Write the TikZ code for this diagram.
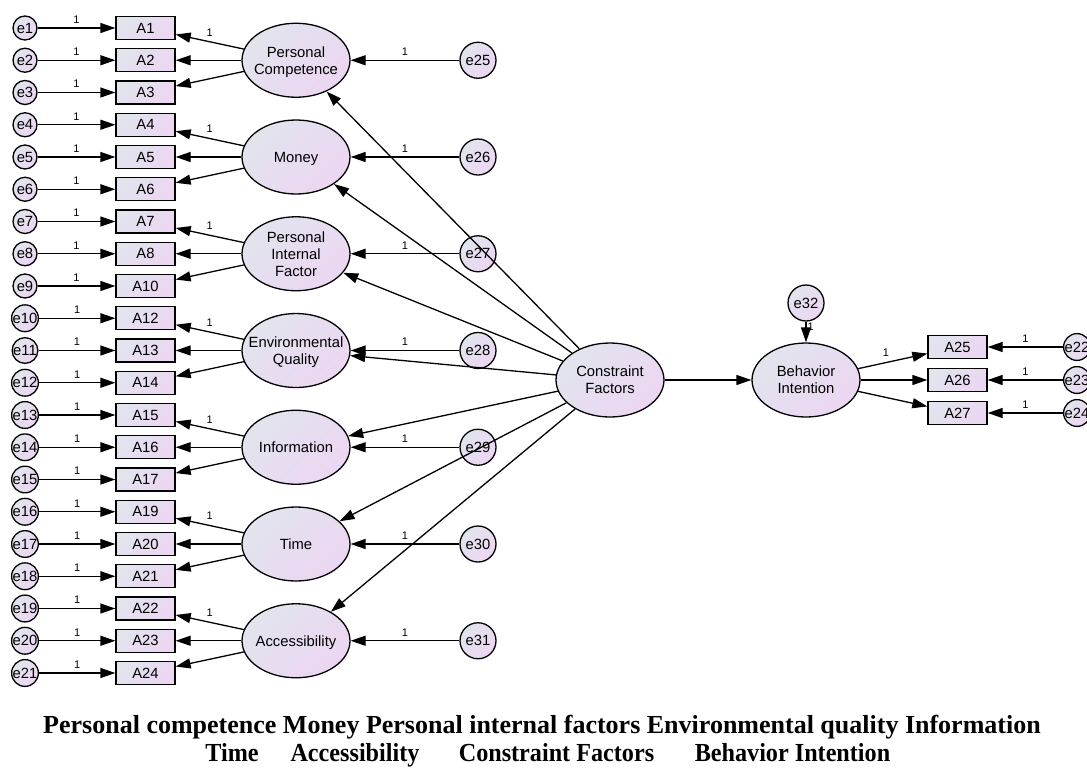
\documentclass[tikz,border=0pt]{standalone}
\usepackage{fontspec}
\setmainfont{Liberation Sans}
\newfontfamily\capfont{Liberation Serif}
\usetikzlibrary{arrows.meta,shapes.geometric}
\definecolor{cA}{RGB}{226,228,238}
\definecolor{cB}{RGB}{236,214,242}
\newcommand\ltxt[1]{\raisebox{-2pt}[\height][\depth]{\makebox[0pt][c]{\begin{tabular}{@{}c@{}}#1\end{tabular}}}}
\newcommand\cword[1]{\scalebox{0.93}[1]{#1}}
\begin{document}
\begin{tikzpicture}[x=1pt,y=-1pt,
 every node/.style={font=\fontsize{14.8}{17}\selectfont},
 grad/.style={draw=black, line width=1.3pt, left color=cA, right color=cB, shading angle=45},
 obs/.style={grad, rectangle, minimum width=59pt, minimum height=23pt, inner sep=0pt},
 lat/.style={grad, ellipse, minimum width=108pt, minimum height=74pt, inner sep=0pt},
 err/.style={grad, circle, minimum size=24pt, inner sep=0pt},
 errb/.style={grad, circle, minimum size=36pt, inner sep=0pt},
 arr/.style={-{Triangle[length=15pt,width=10pt]}, line width=1.3pt},
 one/.style={font=\fontsize{11}{11}\selectfont, inner sep=0pt},
 capt/.style={font=\capfont\bfseries\fontsize{26}{28}\selectfont, inner sep=0pt, anchor=base},
]
\useasboundingbox (0,0) rectangle (1087,769);
% left indicators
\foreach \i/\lab [count=\n from 0] in {1/A1,2/A2,3/A3,4/A4,5/A5,6/A6,7/A7,8/A8,9/A10,10/A12,11/A13,12/A14,13/A15,14/A16,15/A17,16/A19,17/A20,18/A21,19/A22,20/A23,21/A24}{
  \node[err] (e\i) at (25, 28+32.25*\n) {e\i};
  \node[obs] (o\i) at (145.5, 28+32.25*\n) {\lab};
}
% latent factors
\foreach \g/\txt in {1/{Personal\\Competence},2/{Money},3/{Personal\\Internal\\Factor},4/{Environmental\\Quality},5/{Information},6/{Time},7/{Accessibility}}{
  \pgfmathsetmacro\yy{28+32.25*(3*\g-2)}
  \pgfmathtruncatemacro\ee{24+\g}
  \node[lat] (L\g) at (296,\yy) {\ltxt{\txt}};
  \node[errb] (d\g) at (478,\yy) {e\ee};
}
\node[lat] (CF) at (610,380) {\ltxt{Constraint\\Factors}};
\node[lat] (BI) at (806,380) {\ltxt{Behavior\\Intention}};
\node[errb] (e32) at (806,303) {e32};
\node[obs] (A25) at (957.5,347) {A25};
\node[obs] (A26) at (957.5,380) {A26};
\node[obs] (A27) at (957.5,413) {A27};
\node[err] (e22) at (1077,347) {e22};
\node[err] (e23) at (1077,380) {e23};
\node[err] (e24) at (1077,413) {e24};
% connectors
\foreach \i in {1,...,21}{
  \draw[arr] (e\i) -- node[one, midway, above=4pt] {1} (o\i);
}
\foreach \g in {1,...,7}{
  \pgfmathtruncatemacro\ta{3*\g-2}
  \pgfmathtruncatemacro\tb{3*\g-1}
  \pgfmathtruncatemacro\tc{3*\g}
  \draw[arr] (L\g) -- node[one, pos=0.5, above=5pt] {1} (o\ta);
  \draw[arr] (L\g) -- (o\tb);
  \draw[arr] (L\g) -- (o\tc);
  \draw[arr] (d\g) -- node[one, midway, above=4pt] {1} (L\g);
  \draw[arr] (CF) -- (L\g);
}
\draw[arr] (CF) -- (BI);
\draw[arr] (e32) -- node[one, pos=0.25, right=1pt] {1} (BI);
\draw[arr] (BI) -- node[one, pos=0.4, above=5pt] {1} (A25);
\draw[arr] (BI) -- (A26);
\draw[arr] (BI) -- (A27);
\draw[arr] (e22) -- node[one, midway, above=4pt] {1} (A25);
\draw[arr] (e23) -- node[one, midway, above=4pt] {1} (A26);
\draw[arr] (e24) -- node[one, midway, above=4pt] {1} (A27);
% caption
\node[capt] (cap1) at (542,733) {Personal competence Money Personal internal factors Environmental quality Information};
\node[capt] (cap2a) at (232,761) {\cword{Time}};
\node[capt] (cap2b) at (355,761) {\cword{Accessibility}};
\node[capt] (cap2c) at (556.5,761) {\cword{Constraint Factors}};
\node[capt] (cap2d) at (792.5,761) {\cword{Behavior Intention}};
\end{tikzpicture}
\end{document}
